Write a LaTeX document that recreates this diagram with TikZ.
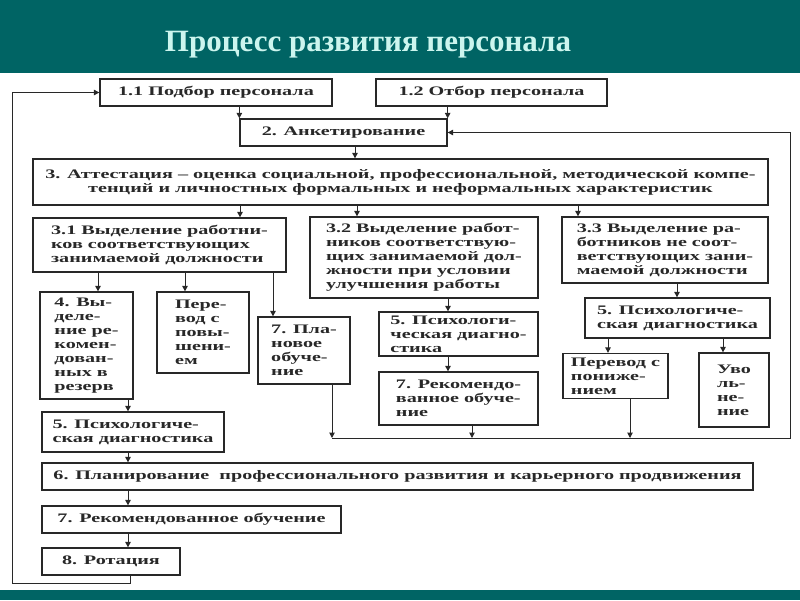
\documentclass[tikz,border=0pt]{standalone}
\usepackage{fontspec}
\setmainfont{Liberation Serif}[FakeStretch=1.55]
\newfontfamily\titlefont{Liberation Serif}
\usetikzlibrary{arrows.meta}
\definecolor{banner}{RGB}{0,100,100}
\definecolor{titletext}{RGB}{204,245,238}
\definecolor{ink}{RGB}{40,40,40}
\tikzset{
  blk/.style={draw=ink, line width=1.3pt, fill=white, text=ink, align=left,
    inner sep=2pt, font=\fontsize{13}{14}\selectfont\bfseries},
  arr/.style={draw=ink, line width=1pt, -{Triangle[length=5.5pt,width=5.5pt]}},
  ln/.style={draw=ink, line width=1pt}
}
\begin{document}
\begin{tikzpicture}[x=1pt,y=-1pt]
    \useasboundingbox (0,0) rectangle (800,600);
    % полосы слайда
    \fill[banner] (0,0) rectangle (800,73);
    \fill[banner] (0,590) rectangle (800,600);
    \node[text=titletext, font=\titlefont\fontsize{31}{33}\selectfont\bfseries] (title) at (368,45) {Процесс развития персонала};
    % подбор и отбор
    \node[blk, minimum width=232, minimum height=27] (n11) at (216,92.5) {1.1 Подбор персонала};
    \node[blk, minimum width=231, minimum height=27] (n12) at (491.5,92.5) {1.2 Отбор персонала};
    \node[blk, minimum width=207, minimum height=27] (n2) at (343.5,132.5) {2. Анкетирование};
    \node[blk, minimum width=735, minimum height=46, align=center] (n3) at (400.5,182)
      {3. Аттестация – оценка социальной, профессиональной, методической компе-\\
       тенций и личностных формальных и неформальных характеристик};
    % три группы работников
    \node[blk, minimum width=253, minimum height=54] (n31) at (159.5,245)
      {3.1 Выделение работни-\\ков соответствующих\\занимаемой должности};
    \node[blk, minimum width=228, minimum height=81] (n32) at (424,257.5)
      {3.2 Выделение работ-\\ников соответствую-\\щих занимаемой дол-\\жности при условии\\улучшения работы};
    \node[blk, minimum width=206, minimum height=66] (n33) at (665,250)
      {3.3 Выделение ра-\\ботников не соот-\\ветствующих зани-\\маемой должности};
    % ветка 3.1
    \node[blk, minimum width=93, minimum height=107] (n4) at (86.5,345.5)
      {4. Вы-\\деле-\\ние ре-\\комен-\\дован-\\ных в\\резерв};
    \node[blk, minimum width=92, minimum height=81] (nup) at (203,332.5)
      {Пере-\\вод с\\повы-\\шени-\\ем};
    \node[blk, minimum width=92, minimum height=67] (n7p) at (304,350.5)
      {7. Пла-\\новое\\обуче-\\ние};
    % ветка 3.2
    \node[blk, minimum width=159, minimum height=44] (n5b) at (458.5,334)
      {5. Психологи-\\ческая диагно-\\стика};
    \node[blk, minimum width=159, minimum height=53] (n7r) at (458.5,398.5)
      {7. Рекомендо-\\ванное обуче-\\ние};
    % ветка 3.3
    \node[blk, minimum width=185, minimum height=40] (n5c) at (677.5,318)
      {5. Психологиче-\\ская диагностика};
    \node[blk, minimum width=105, minimum height=45] (ndn) at (615.5,376)
      {Перевод с\\пониже-\\нием};
    \node[blk, minimum width=70, minimum height=74] (nuv) at (734,390)
      {Уво\\ль-\\не-\\ние};
    % нижняя цепочка
    \node[blk, minimum width=182, minimum height=40] (n5a) at (133,432)
      {5. Психологиче-\\ская диагностика};
    \node[blk, minimum width=711, minimum height=27] (n6) at (397.5,476.5)
      {6. Планирование\ \ профессионального развития и карьерного продвижения};
    \node[blk, minimum width=299, minimum height=27] (n7a) at (191.5,519.5) {7. Рекомендованное обучение};
    \node[blk, minimum width=138, minimum height=27] (n8) at (111,561.5) {8. Ротация};
    % стрелки сверху вниз
    \draw[arr] (n2.north west |- n11.south) -- (n2.north west);
    \draw[arr] (n2.north east |- n12.south) -- (n2.north east);
    \draw[arr] (355,0 |- n2.south) -- (355,0 |- n3.north);
    \draw[arr] (240,0 |- n3.south) -- (240,0 |- n31.north);
    \draw[arr] (357,0 |- n3.south) -- (357,0 |- n32.north);
    \draw[arr] (578,0 |- n3.south) -- (578,0 |- n33.north);
    \draw[arr] (98,0 |- n31.south) -- (98,0 |- n4.north);
    \draw[arr] (185,0 |- n31.south) -- (185,0 |- nup.north);
    \draw[arr] (273,0 |- n31.south) -- (273,0 |- n7p.north);
    \draw[arr] (448,0 |- n32.south) -- (448,0 |- n5b.north);
    \draw[arr] (448,0 |- n5b.south) -- (448,0 |- n7r.north);
    \draw[arr] (677,0 |- n33.south) -- (677,0 |- n5c.north);
    \draw[arr] (608,0 |- n5c.south) -- (608,0 |- ndn.north);
    \draw[arr] (723,0 |- n5c.south) -- (723,0 |- nuv.north);
    \draw[arr] (128,0 |- n4.south) -- (128,0 |- n5a.north);
    \draw[arr] (128,0 |- n5a.south) -- (128,0 |- n6.north);
    \draw[arr] (128,0 |- n6.south) -- (128,0 |- n7a.north);
    \draw[arr] (128,0 |- n7a.south) -- (128,0 |- n8.north);
    % обратная связь справа
    \coordinate (busL) at (332,438);
    \coordinate (busR) at (790,438);
    \draw[arr] (busL |- n7p.south) -- (busL);
    \draw[arr] (472,0 |- n7r.south) -- (472,0 |- busL);
    \draw[arr] (630,0 |- ndn.south) -- (630,0 |- busL);
    \draw[arr] (busL) -- (busR) |- (n2.east);
    % обратная связь слева
    \coordinate (loopB) at (130,583);
    \draw[arr] (loopB |- n8.south) -- (loopB) -| (12,0 |- n11.west) -- (n11.west);
\end{tikzpicture}
\end{document}
